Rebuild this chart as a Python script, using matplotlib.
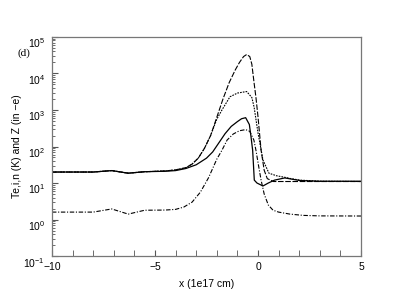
import matplotlib
matplotlib.use("Agg")
import matplotlib.pyplot as plt
import matplotlib.transforms as mtransforms
from matplotlib.ticker import LogLocator, MultipleLocator, NullFormatter

plt.rcParams["font.family"] = ["Liberation Sans", "DejaVu Sans"]
plt.rcParams["mathtext.fontset"] = "custom"
plt.rcParams["mathtext.rm"] = "Liberation Sans"

# long dash curve (highest peak)
x_te = [-10, -8, -7.1, -6.3, -5.5, -4.5, -4.0, -3.5, -3.2, -2.9, -2.6, -2.3, -2.0,
        -1.7, -1.4, -1.1, -0.9, -0.7, -0.55, -0.4, -0.3, -0.19, -0.1, 0.0, 0.15,
        0.3, 0.45, 0.75, 1.0, 2.0, 3.0, 5.0]
y_te = [20, 20, 21.9, 18.6, 20.4, 21.4, 22.9, 26.3, 33, 48, 89, 200, 630,
        2000, 5600, 12600, 20000, 29000, 33000, 29000, 18000, 5500, 2200, 650, 79,
        22.4, 13.2, 11, 11, 11, 11, 11]

# fine dotted curve
x_ti = [-10, -8, -7.1, -6.3, -5.5, -4.5, -4.0, -3.5, -3.2, -2.9, -2.6, -2.3, -2.0,
        -1.75, -1.36, -1.0, -0.55, -0.3, -0.19, 0.0, 0.24, 0.53, 0.9, 1.26, 1.6,
        2.04, 3.0, 5.0]
y_ti = [20, 20, 21.9, 18.6, 20.4, 21.4, 22.9, 26.3, 33, 48, 89, 200, 560,
        1000, 2300, 2900, 3200, 2200, 1200, 235, 43, 18.6, 15.8, 14.5, 13.2,
        12, 11.2, 11]

# solid curve
x_n = [-10, -8, -7.1, -6.3, -5.5, -4.5, -4.0, -3.5, -3.0, -2.5, -2.2, -1.9, -1.6,
       -1.3, -1.0, -0.8, -0.6, -0.42, -0.34, -0.26, -0.18, -0.05, 0.24, 0.5, 0.8,
       1.3, 1.7, 2.04, 3.0, 5.0]
y_n = [20, 20, 21.9, 18.6, 20.4, 21, 21.9, 25, 31.6, 48, 71, 126, 224,
       355, 480, 575, 615, 400, 186, 79, 12, 10, 8.3, 10, 12,
       13.8, 12.6, 11.7, 11.2, 11.2]

# dash-dot curve
x_z = [-10, -8, -7.1, -6.3, -5.5, -4.5, -4.0, -3.6, -3.2, -2.8, -2.4, -2.0, -1.75,
       -1.5, -1.2, -0.9, -0.6, -0.4, -0.2, -0.1, 0.05, 0.15, 0.3, 0.5, 0.73,
       1.0, 1.55, 2.2, 3.0, 5.0]
y_z = [1.6, 1.6, 1.95, 1.41, 1.8, 1.82, 1.9, 2.2, 3.0, 5.6, 14, 45, 79,
       150, 220, 270, 290, 260, 150, 79, 25, 12, 5, 2.5, 1.8,
       1.6, 1.41, 1.3, 1.26, 1.25]

y_ticks = [1e-1, 1e0, 1e1, 1e2, 1e3, 1e4, 1e5]
y_ticklabels = ["$10^{-1}$", "$10^{0}$", "$10^{1}$", "$10^{2}$",
                "$10^{3}$", "$10^{4}$", "$10^{5}$"]

fig = plt.figure(figsize=(4.14, 2.93), dpi=100)
ax = fig.add_axes([0.1256, 0.126, 0.7464, 0.748])

ax.semilogy(x_te, y_te, color="black", lw=0.8, dashes=(5, 1.5))
ax.semilogy(x_ti, y_ti, color="black", lw=0.8, dashes=(1.5, 1))
ax.semilogy(x_n, y_n, color="black", lw=0.9)
ax.semilogy(x_z, y_z, color="black", lw=0.8, dashes=(4, 1.5, 1, 1.5))

ax.set_xlim(-10, 5)
ax.set_ylim(0.1, 1e5)

ax.set_xticks([-10, -5, 0, 5])
ax.set_xticklabels(["\u221210", "\u22125", "0", "5"])
ax.xaxis.set_minor_locator(MultipleLocator(1))
ax.set_yticks(y_ticks)
ax.set_yticklabels(y_ticklabels)
ax.yaxis.set_minor_locator(LogLocator(base=10, subs=range(2, 10), numticks=100))
ax.yaxis.set_minor_formatter(NullFormatter())

ax.tick_params(which="both", direction="in", top=False, right=False,
               color="#555555", labelsize=7.5, pad=3)
ax.tick_params(axis="x", pad=4)
ax.tick_params(axis="y", pad=5)
ax.tick_params(which="major", length=4, width=0.8)
ax.tick_params(which="minor", length=2.5, width=0.6)
ax.tick_params(axis="x", which="minor", length=4)

for sp in ax.spines.values():
    sp.set_color("#777777")
    sp.set_linewidth(0.9)

# push y labels a bit down like the original
offset = mtransforms.ScaledTranslation(0, -4 / 72, fig.dpi_scale_trans)
for lab in ax.get_yticklabels():
    lab.set_transform(lab.get_transform() + offset)

ax.set_xlabel("x (1e17 cm)", fontsize=7.5, labelpad=5)
ax.set_ylabel("Te,i,n (K) and Z (in \u2212e)", fontsize=7.5, labelpad=1)

fig.text(0.042, 0.81, "(d)", fontsize=8, family="Liberation Serif")

fig.savefig("out.png", dpi=100)
